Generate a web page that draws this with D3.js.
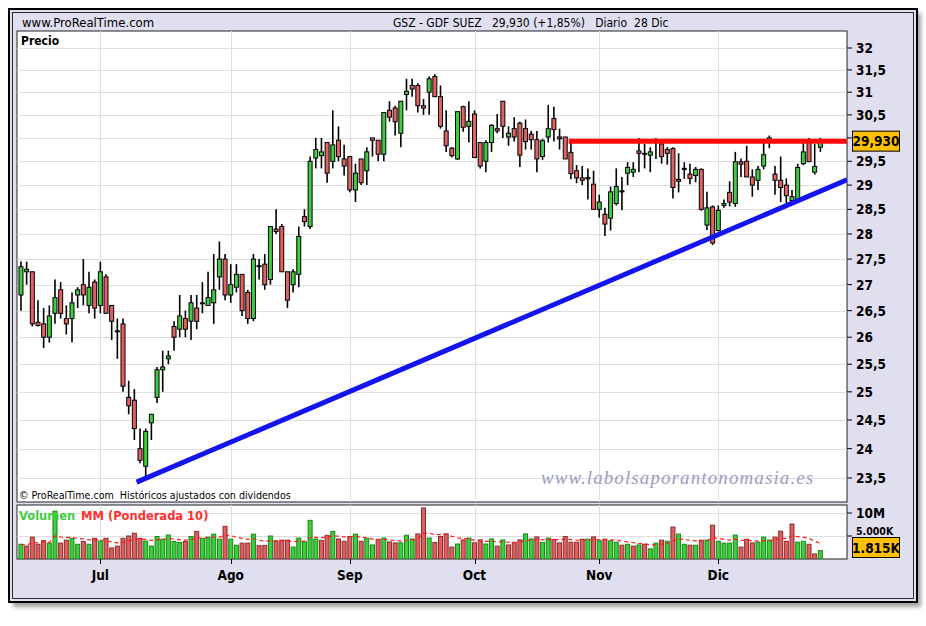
<!DOCTYPE html>
<html lang="es">
<head>
<meta charset="utf-8">
<title>GSZ - GDF SUEZ</title>
<script src="https://cdn.jsdelivr.net/npm/d3@7"></script>
<style>
  body { margin: 0; background: #fff; }
  svg { display: block; }
  .narrow { font-family: "Liberation Sans Narrow", "DejaVu Sans Condensed", "Arial Narrow", sans-serif; }
  .cond { font-family: "DejaVu Sans Condensed", "DejaVu Sans", sans-serif; }
  .grid line { stroke: #dedede; stroke-width: 1; }
</style>
</head>
<body>
<script>
// ---- data ----
var monthLabels = ["Jul", "Ago", "Sep", "Oct", "Nov", "Dic"];
var monthStart = [14, 37, 58, 80, 102, 123];   // candle index of first session

var open = [26.8,27.25,27.25,26.28,26.25,26,26.45,26.9,26.35,26.35,26.8,27,26.6,27.05,26.6,27.15,26.6,26.12,26.25,24.9,
  24.85,24,23.7,24.45,24.9,25.4,25.6,26.2,26.15,26.35,26.3,26.55,26.63,26.6,26.65,27.15,27.5,26.8,26.95,27.2,
  26.85,26.35,27.37,27.4,27.1,28.1,28.15,27.25,27,27.2,28.35,28.15,29.57,29.62,29.9,29.5,29.95,29.55,29.6,28.9,
  29.55,29.3,30,29.95,29.65,30.6,30.65,30.1,30.95,31.15,31.15,30.7,31,31.35,30.9,30.15,29.78,29.55,30.68,30.25,
  30.52,29.9,29.5,29.9,30.2,30.8,30.02,30.2,30.32,30.2,30.08,29.96,29.6,30.02,30.42,30.02,30.02,29.69,29.3,29.15,
  29.16,29.02,28.5,28.4,28.32,28.62,28.88,29.25,29.27,29.72,29.67,29.63,29.9,29.87,29.75,29.77,29.12,29.34,29.23,29.2,
  29.33,28.18,28.55,28.07,28.58,28.85,28.62,29.49,29.5,29.17,29.1,29.4,29.9,29.23,29.1,29,28.68,28.7,29.45,29.92,
  29.27,29.8];
var high = [27.45,27.45,27.25,26.7,26.55,26.6,27.1,27.05,26.6,26.85,26.95,27.5,27.25,27.1,27.45,27.2,26.6,26.35,26.35,25.2,
  25.05,24.35,24.35,24.6,25.45,25.75,25.75,26.3,26.8,26.5,26.8,26.8,27.05,27.25,27.6,27.85,27.6,27.4,27.4,27.2,
  26.9,27.6,27.5,27.6,28.15,28.5,28.2,27.25,27.3,28.15,28.5,29.6,30,30,29.9,30.6,30.25,29.85,29.6,29.45,
  29.55,29.8,30,29.95,30.55,30.8,30.7,30.8,31.3,31.3,31.2,30.85,31.35,31.4,31.15,30.6,29.8,30.57,30.7,30.8,
  30.6,29.9,29.95,30.3,30.52,30.8,30.25,30.45,30.35,30.4,30.15,30.15,29.98,30.72,30.68,30.2,30.02,29.94,29.42,29.4,
  29.35,29.3,28.8,28.53,28.97,29.35,29.17,29.48,29.48,30,29.87,29.8,30,29.9,29.8,29.8,29.67,29.48,29.45,29.38,
  29.35,28.86,28.58,28.58,28.7,29.08,29.7,29.56,29.83,29.33,29.4,29.95,30.05,29.4,29.6,29.14,28.9,29.45,29.93,30,
  29.87,30];
var low = [26.5,27,26.2,26.2,25.8,25.9,26.25,26.35,26.05,25.9,26.55,26.6,26.45,26.35,26.45,26.45,25.95,25.6,25,24.6,
  24.15,23.75,23.5,24.15,24.8,25,25.5,25.75,26,26,25.95,26.15,26.45,26.6,26.25,26.9,26.7,26.65,26.85,26.4,
  26.25,26.3,27.1,26.9,27,28,27.25,26.55,26.85,26.95,28.15,28.1,29.35,29.35,29.05,29.35,29.5,29.2,28.85,28.65,
  29,29,29.6,29.5,29.5,30.35,30.05,29.8,30.6,30.9,30.55,30.5,30.5,30.9,30.2,29.7,29.58,29.53,30.13,29.9,
  29.58,29.35,29.27,29.7,30.1,30,29.83,29.92,29.38,29.75,29.75,29.27,29.53,29.9,29.92,29.75,29.55,29.12,29.04,29,
  28.7,28.5,28.33,27.96,28.07,28.58,28.48,29,29.17,29.27,29.35,29.27,29.55,29.45,29.43,28.72,28.85,29.13,29.02,29.06,
  28.47,28.08,27.78,28.05,28.53,28.56,28.55,29.17,29.17,28.76,28.9,29.33,29.78,28.8,28.65,28.63,28.65,28.67,29.42,29.49,
  29.22,29.7];
var close = [27.35,27.3,26.25,26.22,26,26.4,26.75,26.45,26.25,26.65,26.9,26.8,26.95,26.55,27.25,26.45,26.3,26.1,25.1,24.75,
  24.35,23.8,24.3,24.6,25.4,25.45,25.65,26,26.4,26.15,26.65,26.3,26.65,26.75,26.9,27.5,26.8,27,27.2,26.5,
  26.35,27.5,27.35,27,28.15,28.05,27.25,26.7,27.25,27.95,28.25,29.5,29.75,29.7,29.25,29.85,29.6,29.4,28.9,29.25,
  29.05,29.7,29.95,29.65,30.55,30.45,30.35,30.8,31.02,31.07,30.7,30.65,31.3,30.9,30.25,29.83,29.62,30.57,30.23,30.36,
  29.58,29.4,29.9,30.27,30.15,30.25,30.1,30.02,29.63,29.92,29.96,29.55,29.94,30.2,30.18,29.98,29.55,29.24,29.15,29.1,
  29.13,28.5,28.65,28.2,28.86,28.97,28.87,29.37,29.33,29.67,29.65,29.7,29.95,29.6,29.67,28.95,29.08,29.35,29.14,29.33,
  28.5,28.53,27.82,28.48,28.62,28.65,29.49,29.44,29.17,29,29.33,29.64,30,29.1,28.95,28.78,28.76,29.37,29.7,29.49,
  29.39,29.93];
var volume = [3.2,2.8,4.75,3.2,4,3.45,10.4,3.45,4.1,4.5,3.2,3.8,3.2,4.5,3.9,4.5,2.4,2.8,4.5,5,
  5.6,4.5,3.9,2.8,4.9,4.3,5.2,3.8,3.6,3.8,4.9,6,4.45,4.75,5.4,4.3,7.1,4.3,3,3.45,
  3.45,5.4,2.9,2.95,5,3.9,4.1,4.1,2.6,4.55,3.75,8.4,4.35,4.05,5.15,6,4.35,3.85,4.9,5.4,
  3.85,4.5,3.05,4.2,4.55,3.7,3.5,3.5,5.15,4.35,5.45,11.1,4.55,3.6,4.9,5.45,2.6,3.25,4.15,4.55,
  3.5,4.15,3.25,4.35,2.8,4.15,3.05,3.55,4.15,5.45,4.35,4.8,3.6,4.55,4.2,3.5,4.9,3.65,3.65,4.3,
  4.3,4.8,3.95,4.3,3.95,3.65,3,3.2,2.8,3.05,3.2,2.2,3.45,4.1,3.85,6.95,5.4,3.2,3,3,
  4.1,4.1,7.35,3.85,3.45,3.45,5.2,2.6,4.3,3.5,3.65,4.75,4.1,4.75,6.05,3.85,7.6,3.65,3.85,3.2,
  1.1,1.815];   // millions

var priceTicks = d3.range(23.5, 32.01, 0.5);
var volTicks = [5, 10];
var volTickLabels = ["5.000K", "10M"];

var trendIdx = [20.4, 145.7], trendPrice = [23.43, 29.11];
var resistIdx = [96.6, 145.7], resistPrice = [29.93, 29.93];
var lastPrice = 29.93, lastVolLabel = "1.815K";
var headerTitle = "GSZ - GDF SUEZ   29,930 (+1,85%)   Diario  28 Dic";

// ---- setup ----
var w = 926, h = 626;
var L = 17, R = 847, pTop = 31, pBot = 502, vTop = 505, vBot = 559;

var loc = d3.formatLocale({decimal: ",", thousands: ".", grouping: [3], currency: ["", ""]});
var fmtPrice = loc.format(".1~f");

var x = d3.scaleLinear().domain([-0.7, 145.7]).range([L, R]);
var y = d3.scaleLog().domain([23.5, 32]).range([478, 48]);
var yv = d3.scaleLinear().domain([0, 12]).range([vBot, vBot - 55.2]);

var svg = d3.select("body").append("svg").attr("width", w).attr("height", h);
var defs = svg.append("defs");
defs.append("filter").attr("id", "blur").append("feGaussianBlur").attr("stdDeviation", 2.2);
defs.append("clipPath").attr("id", "clipP").append("rect")
  .attr("x", L).attr("y", pTop).attr("width", R - L).attr("height", pBot - pTop);
defs.append("clipPath").attr("id", "clipV").append("rect")
  .attr("x", L).attr("y", vTop).attr("width", R - L).attr("height", vBot - vTop);

// frame
svg.append("rect").attr("x", 13).attr("y", 13).attr("width", 908).attr("height", 594)
  .attr("fill", "#777").attr("opacity", 0.7).attr("filter", "url(#blur)");
svg.append("rect").attr("x", 9).attr("y", 9).attr("width", 908).attr("height", 593)
  .attr("fill", "#dfdff0").attr("stroke", "#000").attr("stroke-width", 2);
svg.append("rect").attr("x", 12.5).attr("y", 12.5).attr("width", 901).attr("height", 586)
  .attr("fill", "none").attr("stroke", "#000").attr("stroke-width", 0.8);

// header
svg.append("text").attr("class", "narrow").attr("x", 22).attr("y", 27)
  .attr("font-size", 13).text("www.ProRealTime.com");
svg.append("text").attr("class", "narrow").attr("x", 393).attr("y", 27)
  .attr("font-size", 12).style("white-space", "pre").text(headerTitle);

// ---- price panel ----
svg.append("rect").attr("x", L).attr("y", pTop).attr("width", R - L).attr("height", pBot - pTop)
  .attr("fill", "#fff").attr("stroke", "#222").attr("stroke-width", 1);

var gp = svg.append("g").attr("class", "grid");
gp.selectAll("line.h").data(priceTicks).enter().append("line").attr("class", "h")
  .attr("x1", L).attr("x2", R).attr("y1", function(d) { return Math.round(y(d)) + 0.5; })
  .attr("y2", function(d) { return Math.round(y(d)) + 0.5; });
gp.selectAll("line.v").data(monthStart).enter().append("line").attr("class", "v")
  .attr("x1", function(d) { return Math.round(x(d)) + 0.5; })
  .attr("x2", function(d) { return Math.round(x(d)) + 0.5; })
  .attr("y1", pTop).attr("y2", pBot);

svg.append("text").attr("class", "cond").attr("x", 21).attr("y", 45)
  .attr("font-size", 12).attr("font-weight", "bold").text("Precio");

var cg = svg.append("g").attr("clip-path", "url(#clipP)");
var idx = d3.range(close.length);

cg.selectAll("line.wick").data(idx).enter().append("line").attr("class", "wick")
  .attr("x1", function(i) { return x(i); }).attr("x2", function(i) { return x(i); })
  .attr("y1", function(i) { return y(high[i]); }).attr("y2", function(i) { return y(low[i]); })
  .attr("stroke", "#000").attr("stroke-width", 1.6);

cg.selectAll("rect.body").data(idx).enter().append("rect").attr("class", "body")
  .attr("x", function(i) { return x(i) - 2; }).attr("width", 4)
  .attr("y", function(i) { return y(Math.max(open[i], close[i])); })
  .attr("height", function(i) { return Math.max(1, Math.abs(y(open[i]) - y(close[i]))); })
  .attr("fill", function(i) { return close[i] >= open[i] ? "#3fcc3f" : "#e06262"; })
  .attr("stroke", "#000").attr("stroke-width", 1);

// trend lines
cg.append("line")
  .attr("x1", x(trendIdx[0])).attr("y1", y(trendPrice[0]))
  .attr("x2", x(trendIdx[1])).attr("y2", y(trendPrice[1]))
  .attr("stroke", "#1414f0").attr("stroke-width", 5);
cg.append("line")
  .attr("x1", x(resistIdx[0])).attr("y1", y(resistPrice[0]))
  .attr("x2", x(resistIdx[1])).attr("y2", y(resistPrice[1]))
  .attr("stroke", "#ff0a0a").attr("stroke-width", 5);

// watermark + copyright
svg.append("text").attr("x", 541).attr("y", 484)
  .attr("font-family", "'Liberation Serif','DejaVu Serif',serif").attr("font-style", "italic")
  .attr("font-size", 19).attr("letter-spacing", 1.1).attr("fill", "#9c9cc4")
  .text("www.labolsaporantonomasia.es");
svg.append("text").attr("class", "narrow").attr("x", 19).attr("y", 499)
  .attr("font-size", 10.6).style("white-space", "pre")
  .text("\u00a9 ProRealTime.com  Hist\u00f3ricos ajustados con dividendos");

// right price axis (the label under the last-price box is hidden, as in the original)
var boxTop = y(lastPrice) - 10, boxBot = y(lastPrice) + 10;
var shownTicks = priceTicks.filter(function(d) { return y(d) + 6 < boxTop || y(d) - 6 > boxBot; });
var ax = svg.append("g");
ax.selectAll("line").data(priceTicks).enter().append("line")
  .attr("x1", R).attr("x2", R + 5)
  .attr("y1", function(d) { return y(d); }).attr("y2", function(d) { return y(d); })
  .attr("stroke", "#000");
ax.selectAll("text").data(shownTicks).enter().append("text").attr("class", "cond")
  .attr("x", R + 9).attr("y", function(d) { return y(d) + 5; })
  .attr("font-size", 13.5).attr("font-weight", "bold")
  .text(function(d) { return fmtPrice(d); });

svg.append("rect").attr("x", 852.5).attr("y", boxTop).attr("width", 47).attr("height", 20)
  .attr("fill", "#ffc000").attr("stroke", "#000");
svg.append("text").attr("class", "cond").attr("x", 876).attr("y", y(lastPrice) + 5)
  .attr("text-anchor", "middle").attr("font-size", 13.5).attr("font-weight", "bold")
  .text(loc.format(".3f")(lastPrice));

// ---- volume panel ----
svg.append("rect").attr("x", L).attr("y", vTop).attr("width", R - L).attr("height", vBot - vTop)
  .attr("fill", "#fff").attr("stroke", "#222").attr("stroke-width", 1);
var gv = svg.append("g").attr("class", "grid");
gv.selectAll("line.h").data(volTicks).enter().append("line").attr("class", "h")
  .attr("x1", L).attr("x2", R).attr("y1", function(d) { return Math.round(yv(d)) + 0.5; })
  .attr("y2", function(d) { return Math.round(yv(d)) + 0.5; });
gv.selectAll("line.v").data(monthStart).enter().append("line").attr("class", "v")
  .attr("x1", function(d) { return Math.round(x(d)) + 0.5; })
  .attr("x2", function(d) { return Math.round(x(d)) + 0.5; })
  .attr("y1", vTop).attr("y2", vBot);

var vg = svg.append("g").attr("clip-path", "url(#clipV)");
vg.selectAll("rect").data(idx).enter().append("rect")
  .attr("x", function(i) { return x(i) - 2; }).attr("width", 4)
  .attr("y", function(i) { return yv(volume[i]); })
  .attr("height", function(i) { return yv(0) - yv(volume[i]); })
  .attr("fill", function(i) { return (i === 0 || close[i] >= close[i - 1]) ? "#3fcc3f" : "#dc6060"; })
  .attr("stroke", function(i) { return (i === 0 || close[i] >= close[i - 1]) ? "#138a13" : "#8e2c2c"; })
  .attr("stroke-width", 1);

// weighted moving average (10)
function wma(arr, n) {
  return arr.map(function(v, i) {
    var s = 0, ws = 0;
    for (var k = 0; k < n && i - k >= 0; k++) { s += arr[i - k] * (n - k); ws += n - k; }
    return s / ws;
  });
}
var mm = wma(volume, 10);
vg.append("path").datum(idx)
  .attr("d", d3.line().x(function(i) { return x(i); }).y(function(i) { return yv(mm[i]); }))
  .attr("fill", "none").attr("stroke", "#ff1a1a").attr("stroke-width", 1.2)
  .attr("stroke-dasharray", "4,3");

svg.append("text").attr("x", 19).attr("y", 520)
  .attr("font-family", "'DejaVu Sans',sans-serif").attr("font-size", 11.5).attr("font-weight", "bold")
  .attr("fill", "#3fcc3f").text("Volumen");
svg.append("text").attr("x", 81).attr("y", 520)
  .attr("font-family", "'DejaVu Sans',sans-serif").attr("font-size", 11.5).attr("font-weight", "bold")
  .attr("fill", "#ff3030").text("MM (Ponderada 10)");

var vax = svg.append("g");
vax.selectAll("line").data(volTicks).enter().append("line")
  .attr("x1", R).attr("x2", R + 5)
  .attr("y1", function(d) { return yv(d); }).attr("y2", function(d) { return yv(d); })
  .attr("stroke", "#000");
// 5.000K sits just above the last-volume box so both stay readable
vax.selectAll("text").data(volTicks).enter().append("text").attr("class", "cond")
  .attr("x", R + 9).attr("y", function(d, i) { return i === 0 ? 535 : yv(d) + 5; })
  .attr("font-size", function(d, i) { return i === 0 ? 10.5 : 13.5; }).attr("font-weight", "bold")
  .text(function(d, i) { return volTickLabels[i]; });

svg.append("rect").attr("x", 852.5).attr("y", 537.5).attr("width", 47).attr("height", 20)
  .attr("fill", "#ffc000").attr("stroke", "#000");
svg.append("text").attr("class", "cond").attr("x", 876).attr("y", 552.5)
  .attr("text-anchor", "middle").attr("font-size", 13.5).attr("font-weight", "bold")
  .text(lastVolLabel);

// month axis
var mx = svg.append("g");
mx.selectAll("line").data(monthStart).enter().append("line")
  .attr("x1", function(d) { return Math.round(x(d)) + 0.5; })
  .attr("x2", function(d) { return Math.round(x(d)) + 0.5; })
  .attr("y1", vBot).attr("y2", vBot + 5).attr("stroke", "#000");
mx.selectAll("text").data(monthStart).enter().append("text").attr("class", "cond")
  .attr("x", function(d) { return x(d); }).attr("y", 580)
  .attr("text-anchor", "middle").attr("font-size", 13.5).attr("font-weight", "bold")
  .text(function(d, i) { return monthLabels[i]; });
</script>
</body>
</html>
